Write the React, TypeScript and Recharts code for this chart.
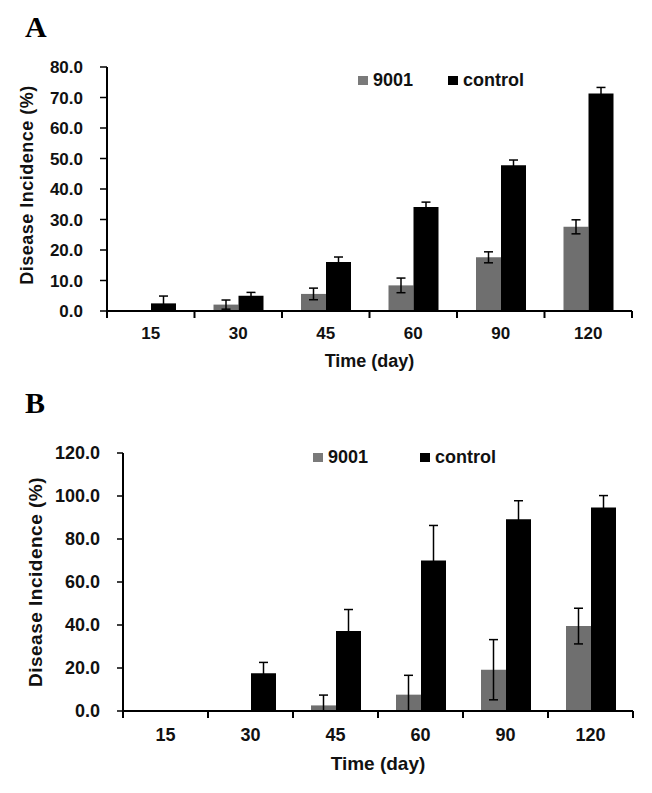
import React from "react"
import { BarChart, Bar, XAxis, YAxis, ErrorBar, Legend } from "recharts"

// sampling days
const days = ["15", "30", "45", "60", "90", "120"]

// panel A
const incA9001 = [0, 2.1, 5.6, 8.4, 17.6, 27.6]
const errA9001 = [0, 1.5, 1.9, 2.4, 1.8, 2.3]
const incAControl = [2.5, 5.0, 16.1, 34.1, 47.8, 71.3]
const errAControl = [2.4, 1.1, 1.6, 1.6, 1.7, 2.0]
const ticksA = [0, 10, 20, 30, 40, 50, 60, 70, 80]

// panel B
const incB9001 = [0, 0, 2.6, 7.6, 19.2, 39.5]
const errB9001 = [0, 0, 4.8, 9.0, 14.0, 8.3]
const incBControl = [0, 17.6, 37.2, 70.0, 89.2, 94.6]
const errBControl = [0, 5.0, 10.0, 16.3, 8.6, 5.6]
const ticksB = [0, 20, 40, 60, 80, 100, 120]

const GRAY = "#6f6f6f"
const BLACK = "#000"
const FONT = "'Liberation Sans', Arial, sans-serif"

// lower whisker stops at zero, like the original figure
const whisker = (v: number, e: number) => [Math.min(e, v), e]

const buildRows = (a: number[], ea: number[], c: number[], ec: number[]) =>
  days.map((day, i) => ({
    day,
    s9001: a[i],
    e9001: whisker(a[i], ea[i]),
    control: c[i],
    eControl: whisker(c[i], ec[i]),
  }))

const rowsA = buildRows(incA9001, errA9001, incAControl, errAControl)
const rowsB = buildRows(incB9001, errB9001, incBControl, errBControl)

// day label at the category centre, tick marks at the category edges (as in Excel)
function CatTick(props: any) {
  const { x, y, payload, index, visibleTicksCount, width, labelGap, size } = props
  const half = payload.offset ? payload.offset : width / (2 * visibleTicksCount)
  const last = index === visibleTicksCount - 1
  return (
    <g>
      <line x1={x - half} y1={y} x2={x - half} y2={y + 7} stroke={BLACK} strokeWidth={2} />
      {last && <line x1={x + half} y1={y} x2={x + half} y2={y + 7} stroke={BLACK} strokeWidth={2} />}
      <text
        x={x}
        y={y + labelGap}
        dy="0.71em"
        textAnchor="middle"
        fontFamily={FONT}
        fontWeight="bold"
        fontSize={size}
        fill="#111"
      >
        {payload.value}
      </text>
    </g>
  )
}

function YTitle(props: any) {
  const { viewBox, dx = 0, dy = 0, size = 18 } = props
  const x = viewBox.x + dx
  const y = viewBox.y + viewBox.height / 2 + dy
  return (
    <text
      x={x}
      y={y}
      transform={`rotate(-90 ${x} ${y})`}
      textAnchor="middle"
      dominantBaseline="central"
      fontFamily={FONT}
      fontWeight="bold"
      fontSize={size}
      letterSpacing={0.5}
      fill="#111"
    >
      Disease Incidence (%)
    </text>
  )
}

function LegendBox({ gap, size }: { gap: number; size: number }) {
  const item = (color: string, label: string, mr: number) => (
    <div style={{ display: "flex", alignItems: "center", marginRight: mr }}>
      <div style={{ width: 10, height: 9, background: color, marginRight: 5 }} />
      <span style={{ fontFamily: FONT, fontWeight: "bold", fontSize: size, lineHeight: "18px", color: "#111" }}>
        {label}
      </span>
    </div>
  )
  return (
    <div style={{ display: "flex", alignItems: "center" }}>
      {item("#7a7a7a", "9001", gap)}
      {item(BLACK, "control", 0)}
    </div>
  )
}

type PanelProps = {
  rows: any[]
  height: number
  yWidth: number
  top: number
  right: number
  max: number
  ticks: number[]
  gap: number
  font: number
  titleX: number
  titleDy: number
  xAxisH: number
  labelGap: number
  yTickSize: number
  legendLeft: number
  legendTop: number
  legendGap: number
}

function Panel(p: PanelProps) {
  const tickStyle = { fontFamily: FONT, fontWeight: "bold", fontSize: p.font, fill: "#111" }
  return (
    <BarChart
      width={652}
      height={p.height}
      data={p.rows}
      margin={{ top: p.top, right: p.right, bottom: 19, left: 0 }}
      barCategoryGap={p.gap}
      barGap={0}
    >
      <XAxis
        dataKey="day"
        interval={0}
        tickSize={0}
        tickMargin={0}
        height={p.xAxisH}
        axisLine={{ stroke: BLACK, strokeWidth: 2 }}
        tickLine={false}
        tick={<CatTick labelGap={p.labelGap} size={p.font} />}
        label={{
          value: "Time (day)",
          position: "insideBottom",
          offset: 4,
          fontFamily: FONT,
          fontWeight: "bold",
          fontSize: p.font + 1,
          fill: "#111",
        }}
      />
      <YAxis
        width={p.yWidth}
        domain={[0, p.max]}
        ticks={p.ticks}
        interval={0}
        tickFormatter={(v: number) => v.toFixed(1)}
        tick={tickStyle}
        tickSize={p.yTickSize}
        tickMargin={17}
        axisLine={{ stroke: BLACK, strokeWidth: 2 }}
        tickLine={{ stroke: BLACK, strokeWidth: 1.5 }}
        label={<YTitle dx={p.titleX} dy={p.titleDy} size={p.font + 1} />}
      />
      <Legend
        verticalAlign="middle"
        align="center"
        layout="horizontal"
        wrapperStyle={{ left: p.legendLeft, top: p.legendTop, width: "auto", height: "auto" }}
        content={() => <LegendBox gap={p.legendGap} size={18} />}
      />
      <Bar dataKey="s9001" name="9001" fill={GRAY} isAnimationActive={false}>
        <ErrorBar dataKey="e9001" width={4.5} stroke={BLACK} strokeWidth={1.5} isAnimationActive={false} />
      </Bar>
      <Bar dataKey="control" name="control" fill={BLACK} isAnimationActive={false}>
        <ErrorBar dataKey="eControl" width={4.5} stroke={BLACK} strokeWidth={1.5} isAnimationActive={false} />
      </Bar>
    </BarChart>
  )
}

const titleStyle: React.CSSProperties = {
  position: "absolute",
  left: 25,
  fontFamily: "'Liberation Serif', 'Times New Roman', serif",
  fontWeight: "bold",
  fontSize: 30,
  lineHeight: "30px",
  color: "#000",
}

export default function App() {
  return (
    <div style={{ position: "relative", width: 652, height: 793, background: "#fff" }}>
      <style>{`body{margin:0}`}</style>
      <div style={{ ...titleStyle, top: 12 }}>A</div>
      <div style={{ ...titleStyle, top: 388 }}>B</div>
      <div style={{ position: "absolute", top: 0, left: 0 }}>
        <Panel
          rows={rowsA}
          height={390}
          yWidth={107}
          top={67}
          right={20}
          max={80}
          ticks={ticksA}
          gap={19}
          font={17}
          titleX={27}
          titleDy={-4}
          xAxisH={60}
          labelGap={16}
          yTickSize={7}
          legendLeft={358}
          legendTop={71}
          legendGap={35}
        />
      </div>
      <div style={{ position: "absolute", top: 390, left: 0 }}>
        <Panel
          rows={rowsB}
          height={403}
          yWidth={123}
          top={63}
          right={19}
          max={120}
          ticks={ticksB}
          gap={18}
          font={18}
          titleX={35}
          titleDy={0}
          xAxisH={63}
          labelGap={17}
          yTickSize={6}
          legendLeft={313}
          legendTop={58}
          legendGap={52}
        />
      </div>
    </div>
  )
}
